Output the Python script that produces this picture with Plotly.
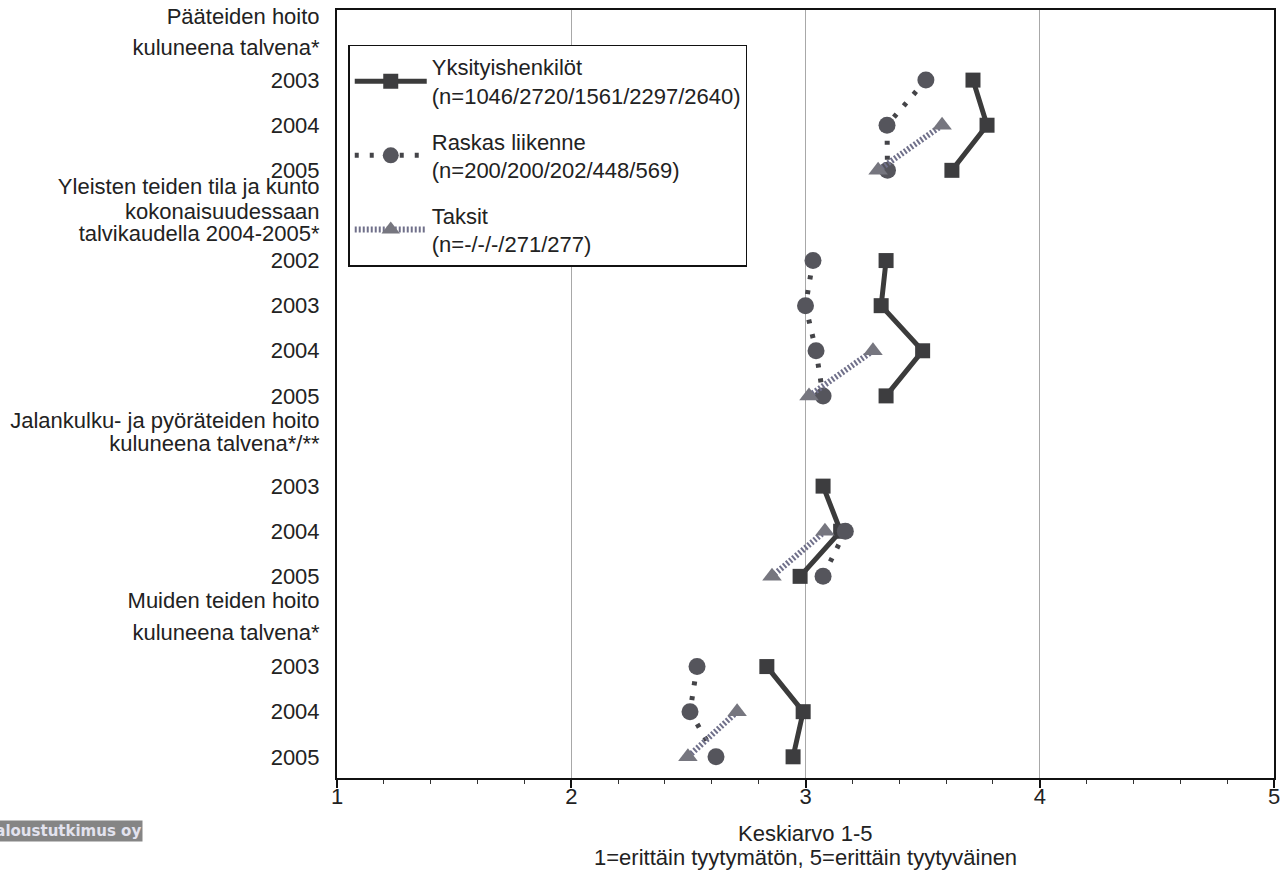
import plotly.graph_objects as go

# ---------------- data ----------------
group_headers = [
    ["Pääteiden hoito", "kuluneena talvena*"],
    ["Yleisten teiden tila ja kunto", "kokonaisuudessaan", "talvikaudella 2004-2005*"],
    ["Jalankulku- ja pyöräteiden hoito", "kuluneena talvena*/**"],
    ["Muiden teiden hoito", "kuluneena talvena*"],
]
group_years = [
    ["2003", "2004", "2005"],
    ["2002", "2003", "2004", "2005"],
    ["2003", "2004", "2005"],
    ["2003", "2004", "2005"],
]
yksityis = [
    [3.715, 3.775, 3.625],
    [3.344, 3.323, 3.50, 3.344],
    [3.075, 3.15, 2.977],
    [2.835, 2.99, 2.947],
]
raskas = [
    [3.514, 3.348, 3.35],
    [3.032, 3.00, 3.045, 3.075],
    [None, 3.17, 3.075],
    [2.537, 2.507, 2.618],
]
taksit = [
    [None, 3.583, 3.31],
    [None, None, 3.288, 3.015],
    [None, 3.083, 2.857],
    [None, 2.708, 2.498],
]
series_names = [
    "Yksityishenkilöt<br>(n=1046/2720/1561/2297/2640)",
    "Raskas liikenne<br>(n=200/200/202/448/569)",
    "Taksit<br>(n=-/-/-/271/277)",
]
x_ticks = [1, 2, 3, 4, 5]
x_title_lines = ["Keskiarvo 1-5", "1=erittäin tyytymätön, 5=erittäin tyytyväinen"]

# ---------------- layout helpers ----------------
header_offsets = [
    [-0.41, 0.28],
    [-0.64, -0.09, 0.40],
    [-0.47, 0.06],
    [-0.48, 0.24],
]

rows = []          # row index for each year of each group
header_rows = []
r = 0
for yrs in group_years:
    header_rows.append(r)
    r += 1
    rows.append(list(range(r, r + len(yrs))))
    r += len(yrs)

tickvals, ticktext = [], []
for gi, lines in enumerate(group_headers):
    for line, off in zip(lines, header_offsets[gi]):
        tickvals.append(header_rows[gi] + off)
        ticktext.append(line)
    for yr, row in zip(group_years[gi], rows[gi]):
        tickvals.append(row)
        ticktext.append(yr)


def build(series):
    xs, ys = [], []
    for gi, vals in enumerate(series):
        for v, row in zip(vals, rows[gi]):
            xs.append(v)
            ys.append(row if v is not None else None)
        xs.append(None)
        ys.append(None)
    return xs, ys


styles = [
    dict(line=dict(color="#3b3b3b", width=5),
         marker=dict(symbol="square", size=15, color="#3d3d3f")),
    dict(line=dict(color="#444448", width=5, dash="4px,11px"),
         marker=dict(symbol="circle", size=17, color="#55555c")),
    dict(line=dict(color="#70708a", width=6, dash="2px,2px"),
         marker=dict(symbol="triangle-up", size=17, color="#76767f")),
]

fig = go.Figure()
for name, data, st in zip(series_names, [yksityis, raskas, taksit], styles):
    xs, ys = build(data)
    fig.add_trace(go.Scatter(
        x=xs, y=ys, mode="lines+markers", name=name,
        legendgroup=name, connectgaps=False,
        line=st["line"], marker=st["marker"],
    ))

FONT = "Liberation Sans, Arial, sans-serif"
FS = 22

fig.update_layout(
    width=1282, height=876,
    margin=dict(l=337, r=8, t=10, b=98, autoexpand=False),
    paper_bgcolor="white", plot_bgcolor="white",
    font=dict(family=FONT, size=FS, color="#222222"),
    showlegend=True,
    legend=dict(
        x=0.012, y=0.955, xanchor="left", yanchor="top",
        bgcolor="white", bordercolor="#111111", borderwidth=1.5,
        font=dict(size=FS, color="#222222"),
        tracegroupgap=14, itemwidth=72,
    ),
    xaxis=dict(
        range=[1, 5], tickvals=x_ticks, ticktext=[str(t) for t in x_ticks],
        showgrid=True, gridcolor="#a8a8a8", gridwidth=1,
        zeroline=False, automargin=False,
        showline=True, linecolor="#111111", linewidth=2, mirror=True,
        ticks="outside", ticklen=8, tickwidth=1.5, tickcolor="#111111",
        minor=dict(dtick=0.2, ticks="outside", ticklen=4, tickcolor="#333333",
                   tickwidth=1, showgrid=False),
        tickfont=dict(size=FS), ticklabelstandoff=-10,
    ),
    yaxis=dict(
        range=[16.47, -0.554], tickvals=tickvals, ticktext=ticktext,
        showgrid=False, zeroline=False, automargin=False,
        showline=True, linecolor="#111111", linewidth=2, mirror=True,
        ticks="", ticklabelstandoff=11, ticklabeloverflow="allow",
    ),
)

# x-axis title (two lines, tighter spacing than plotly's default line height)
for line, py in zip(x_title_lines, [833, 857]):
    fig.add_annotation(
        text=line, xref="paper", yref="paper",
        x=0.5, y=(778 - py) / 768, xanchor="center", yanchor="middle",
        showarrow=False, font=dict(size=FS, color="#222222", family=FONT),
    )

fig.add_annotation(
    text="<b>Taloustutkimus oy</b>", xref="paper", yref="paper",
    x=(-15 - 337) / 937, y=(778 - 831) / 768, xanchor="left", yanchor="middle",
    showarrow=False, bgcolor="#858585", borderpad=1,
    font=dict(size=15, color="#e2e2ee", family="DejaVu Sans, sans-serif"),
)

fig.write_html("out.html", config={"displayModeBar": False},
               post_script="document.body.style.margin='0';")
